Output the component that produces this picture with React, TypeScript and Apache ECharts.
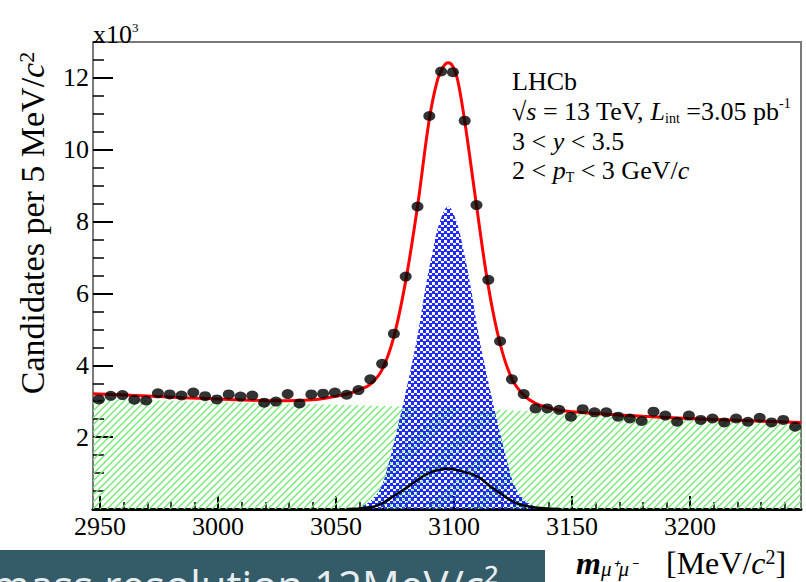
import React, { useEffect, useRef } from 'react';
import * as echarts from 'echarts';

const SERIF = '"Liberation Serif", "Times New Roman", serif';

// x axis (MeV/c^2)
const X_MIN = 2947;
const X_MAX = 3247;
const MAJOR_X = [2950, 3000, 3050, 3100, 3150, 3200];
const MINOR_X = [2960, 2970, 2980, 2990, 3010, 3020, 3030, 3040, 3060, 3070, 3080, 3090,
  3110, 3120, 3130, 3140, 3160, 3170, 3180, 3190, 3210, 3220, 3230, 3240];
// y axis (candidates)
const Y_MIN = 0;
const Y_MAX = 13000;
const MAJOR_Y = [2000, 4000, 6000, 8000, 10000, 12000];
const MINOR_Y = [500, 1000, 1500, 2500, 3000, 3500, 4500, 5000, 5500, 6500, 7000, 7500,
  8500, 9000, 9500, 10500, 11000, 11500, 12500, 13000];

// data points (bin centres, candidates per 5 MeV)
const POINT_MASS = [2949.5, 2954.5, 2959.5, 2964.5, 2969.5, 2974.5, 2979.5, 2984.5, 2989.5, 2994.5,
  2999.5, 3004.5, 3009.5, 3014.5, 3019.5, 3024.5, 3029.5, 3034.5, 3039.5, 3044.5,
  3049.5, 3054.5, 3059.5, 3064.5, 3069.5, 3074.5, 3079.5, 3084.5, 3089.5, 3094.5,
  3099.5, 3104.5, 3109.5, 3114.5, 3119.5, 3124.5, 3129.5, 3134.5, 3139.5, 3144.5,
  3149.5, 3154.5, 3159.5, 3164.5, 3169.5, 3174.5, 3179.5, 3184.5, 3189.5, 3194.5,
  3199.5, 3204.5, 3209.5, 3214.5, 3219.5, 3224.5, 3229.5, 3234.5, 3239.5, 3244.5];
const POINT_COUNTS = [3050, 3150, 3170, 3040, 3020, 3220, 3190, 3160, 3240, 3140,
  3050, 3190, 3130, 3160, 2960, 2990, 3200, 2940, 3190, 3210,
  3240, 3180, 3310, 3610, 4040, 4880, 6470, 8420, 10940, 12180,
  12160, 10810, 8460, 6380, 4670, 3610, 3200, 2800, 2800, 2760,
  2570, 2780, 2690, 2690, 2570, 2520, 2450, 2710, 2600, 2430,
  2600, 2480, 2520, 2410, 2520, 2430, 2540, 2410, 2480, 2290];

// total fit (red)
const FIT_MASS = [2947, 2965, 2985, 3005, 3025, 3040, 3049.5, 3054.5, 3059.5, 3064.5, 3069.5, 3074.5,
  3079.5, 3084.5, 3089.5, 3093, 3095.5, 3097.5, 3099.5, 3101.5, 3104.5, 3109.5, 3114.5, 3119.5,
  3124.5, 3129.5, 3134.5, 3139.5, 3145, 3160, 3180, 3200, 3220, 3247];
const FIT_COUNTS = [3210, 3160, 3100, 3050, 3010, 3040, 3130, 3200, 3310, 3470, 3880, 4800,
  6350, 8420, 10850, 11950, 12320, 12420, 12320, 11950, 10800, 8450, 6200, 4600,
  3620, 3170, 2940, 2830, 2740, 2660, 2580, 2520, 2470, 2410];

// background component (green hatched)
const BKG_MASS = [2947, 3000, 3050, 3100, 3150, 3200, 3247];
const BKG_COUNTS = [3070, 2980, 2900, 2810, 2680, 2500, 2340];

// prompt signal component (blue)
const SIG_MASS = [3055, 3060, 3065, 3069, 3072, 3076, 3079, 3082, 3085, 3088, 3091, 3094, 3097.5,
  3101, 3104, 3107, 3110, 3113, 3116, 3119, 3123, 3126, 3130, 3135, 3140];
const SIG_COUNTS = [0, 50, 250, 600, 1200, 2250, 3100, 4000, 5000, 6200, 7200, 8000, 8420,
  8000, 7200, 6200, 5000, 4000, 3100, 2250, 1200, 600, 250, 50, 0];

// from-b component (black)
const FROMB_MASS = [3055, 3062, 3068, 3074, 3080, 3085, 3090, 3097, 3104, 3110, 3115, 3120, 3126, 3131, 3138, 3145];
const FROMB_COUNTS = [0, 30, 110, 340, 600, 830, 1020, 1120, 1040, 900, 650, 420, 170, 80, 20, 0];

const zip = (a: number[], b: number[]) => a.map((v, i) => [v, b[i]]);

function greenHatch() {
  const s = 7;
  const c = document.createElement('canvas');
  c.width = s; c.height = s;
  const ctx = c.getContext('2d')!;
  ctx.strokeStyle = '#6fe86f';
  ctx.lineWidth = 1.3;
  ctx.beginPath();
  ctx.moveTo(0, s); ctx.lineTo(s, 0);
  ctx.moveTo(-1, 1); ctx.lineTo(1, -1);
  ctx.moveTo(s - 1, s + 1); ctx.lineTo(s + 1, s - 1);
  ctx.stroke();
  return { image: c, repeat: 'repeat', imageWidth: s, imageHeight: s };
}

function blueDots() {
  const s = 6;
  const c = document.createElement('canvas');
  c.width = s; c.height = s;
  const ctx = c.getContext('2d')!;
  ctx.fillStyle = '#1f2bff';
  ctx.fillRect(0, 0, s, s);
  ctx.clearRect(0, 0, 3, 3);
  ctx.clearRect(3, 3, 3, 2);
  return { image: c, repeat: 'repeat', imageWidth: s, imageHeight: s };
}

export default function App() {
  const ref = useRef<HTMLDivElement>(null);
  useEffect(() => {
    const el = ref.current!;
    const chart = echarts.init(el, undefined, { renderer: 'svg' });
    const tickFont = { fontFamily: SERIF, fontSize: 26, color: '#000' };
    const option: any = {
      animation: false,
      backgroundColor: '#fff',
      grid: { left: 93, right: 5, top: 42, bottom: 73, show: true, borderColor: '#7a7a7a', borderWidth: 2, backgroundColor: 'transparent' },
      xAxis: [
        {
          type: 'value', min: X_MIN, max: X_MAX, position: 'bottom',
          axisLine: { show: true, onZero: false, lineStyle: { color: '#000', width: 3 } },
          axisTick: { show: true, inside: true, length: 13, customValues: MAJOR_X, lineStyle: { color: '#000', width: 2 } },
          axisLabel: { show: true, customValues: MAJOR_X, margin: 4, formatter: (v: number) => String(v), ...tickFont },
          splitLine: { show: false },
        },
        {
          type: 'value', min: X_MIN, max: X_MAX, position: 'bottom',
          axisLine: { show: false },
          axisTick: { show: true, inside: true, length: 7, customValues: MINOR_X, lineStyle: { color: '#000', width: 1.5 } },
          axisLabel: { show: false },
          splitLine: { show: false },
        },
      ],
      yAxis: [
        {
          type: 'value', min: Y_MIN, max: Y_MAX, position: 'left',
          axisLine: { show: true, onZero: false, lineStyle: { color: '#7a7a7a', width: 2 } },
          axisTick: { show: true, inside: true, length: 20, customValues: MAJOR_Y, lineStyle: { color: '#000', width: 2 } },
          axisLabel: { show: true, customValues: MAJOR_Y, margin: 4, formatter: (v: number) => String(v / 1000), ...tickFont },
          splitLine: { show: false },
        },
        {
          type: 'value', min: Y_MIN, max: Y_MAX, position: 'left',
          axisLine: { show: false },
          axisTick: { show: true, inside: true, length: 11, customValues: MINOR_Y, lineStyle: { color: '#000', width: 1.5 } },
          axisLabel: { show: false },
          splitLine: { show: false },
        },
      ],
      series: [
        {
          type: 'line', name: 'Background', data: zip(BKG_MASS, BKG_COUNTS), symbol: 'none',
          lineStyle: { width: 0 }, areaStyle: { color: greenHatch(), opacity: 1 }, z: 1, silent: true,
        },
        {
          type: 'line', name: 'Prompt J/psi', data: zip(SIG_MASS, SIG_COUNTS), symbol: 'none', smooth: 0.4,
          lineStyle: { width: 0 }, areaStyle: { color: blueDots(), opacity: 1 }, z: 2, silent: true,
        },
        {
          type: 'line', name: 'J/psi from b', data: zip(FROMB_MASS, FROMB_COUNTS), symbol: 'none', smooth: 0.4,
          lineStyle: { color: '#000', width: 2.5 }, z: 3, silent: true,
        },
        {
          type: 'line', name: 'Fit', data: zip(FIT_MASS, FIT_COUNTS), symbol: 'none', smooth: 0.35,
          lineStyle: { color: '#ff0000', width: 3 }, z: 4, silent: true,
        },
        {
          type: 'scatter', name: 'Data', data: zip(POINT_MASS, POINT_COUNTS), symbol: 'circle', symbolSize: [12, 10],
          itemStyle: { color: '#000' }, z: 5, silent: true,
        },
      ],
      graphic: [
        {
          type: 'text', x: 93, y: 34,
          style: {
            text: 'x10{sup|3}', fontFamily: SERIF, fontSize: 26, fill: '#000',
            align: 'left', verticalAlign: 'middle', textAlign: 'left', textVerticalAlign: 'middle',
            rich: { sup: { fontFamily: SERIF, fontSize: 13, verticalAlign: 'top', fill: '#000' } },
          },
        },
        {
          type: 'text', x: 32, y: 223, rotation: Math.PI / 2,
          style: {
            text: 'Candidates per 5 MeV/{it|c}{sup|2}', fontFamily: SERIF, fontSize: 34, fill: '#000',
            align: 'center', verticalAlign: 'middle', textAlign: 'center', textVerticalAlign: 'middle',
            rich: {
              it: { fontFamily: SERIF, fontSize: 34, fontStyle: 'italic', fill: '#000' },
              sup: { fontFamily: SERIF, fontSize: 22, verticalAlign: 'top', fill: '#000' },
            },
          },
        },
        {
          type: 'text', x: 576, y: 563,
          style: {
            text: '{m|m}{sub|μ⁺μ⁻}', fontFamily: SERIF, fontSize: 32, fill: '#000',
            align: 'left', verticalAlign: 'middle', textAlign: 'left', textVerticalAlign: 'middle',
            rich: {
              m: { fontFamily: SERIF, fontSize: 32, fontStyle: 'italic', fontWeight: 'bold', fill: '#000' },
              sub: { fontFamily: SERIF, fontSize: 21, fontStyle: 'italic', verticalAlign: 'bottom', fill: '#000' },
            },
          },
        },
        {
          type: 'text', x: 666, y: 563,
          style: {
            text: '[MeV/{it|c}{sup|2}]', fontFamily: SERIF, fontSize: 32, fill: '#000',
            align: 'left', verticalAlign: 'middle', textAlign: 'left', textVerticalAlign: 'middle',
            rich: {
              it: { fontFamily: SERIF, fontSize: 32, fontStyle: 'italic', fill: '#000' },
              sup: { fontFamily: SERIF, fontSize: 20, verticalAlign: 'top', fill: '#000' },
            },
          },
        },
        {
          type: 'group', x: 512, y: 0,
          children: [
            { type: 'text', x: 0, y: 81, style: { text: 'LHCb', fontFamily: SERIF, fontSize: 26, fill: '#000', align: 'left', verticalAlign: 'middle', textAlign: 'left', textVerticalAlign: 'middle' } },
            {
              type: 'text', x: 0, y: 111,
              style: {
                text: '√{it|s} = 13 TeV, {it|L}{sub|int} =3.05 pb{sup|-1}', fontFamily: SERIF, fontSize: 26, fill: '#000', lineHeight: 29,
                align: 'left', verticalAlign: 'middle', textAlign: 'left', textVerticalAlign: 'middle',
                rich: {
                  it: { fontFamily: SERIF, fontSize: 26, fontStyle: 'italic', fill: '#000' },
                  sub: { fontFamily: SERIF, fontSize: 14, verticalAlign: 'bottom', fill: '#000' },
                  sup: { fontFamily: SERIF, fontSize: 14, verticalAlign: 'top', fill: '#000' },
                },
              },
            },
            {
              type: 'text', x: 0, y: 141,
              style: {
                text: '3 < {it|y} < 3.5', fontFamily: SERIF, fontSize: 26, fill: '#000',
                align: 'left', verticalAlign: 'middle', textAlign: 'left', textVerticalAlign: 'middle',
                rich: { it: { fontFamily: SERIF, fontSize: 26, fontStyle: 'italic', fill: '#000' } },
              },
            },
            {
              type: 'text', x: 0, y: 170,
              style: {
                text: '2 < {it|p}{sub|T} < 3 GeV/{it|c}', fontFamily: SERIF, fontSize: 26, fill: '#000', lineHeight: 29,
                align: 'left', verticalAlign: 'middle', textAlign: 'left', textVerticalAlign: 'middle',
                rich: {
                  it: { fontFamily: SERIF, fontSize: 26, fontStyle: 'italic', fill: '#000' },
                  sub: { fontFamily: SERIF, fontSize: 14, verticalAlign: 'bottom', fill: '#000' },
                },
              },
            },
          ],
        },
        {
          type: 'rect', shape: { x: 0, y: 550, width: 545, height: 40 },
          style: { fill: '#345c68' }, z: 10,
        },
        {
          type: 'text', x: -9, y: 584, z: 11,
          style: {
            text: 'mass resolution 12MeV/c²', fontFamily: '"Open Sans", sans-serif', fontSize: 42, fill: '#e8eef0',
            align: 'left', verticalAlign: 'middle', textAlign: 'left', textVerticalAlign: 'middle',
          },
        },
      ],
    };
    chart.setOption(option);
    return () => chart.dispose();
  }, []);
  return <div ref={ref} style={{ position: 'absolute', left: 0, top: 0, width: 806, height: 582 }} />;
}
